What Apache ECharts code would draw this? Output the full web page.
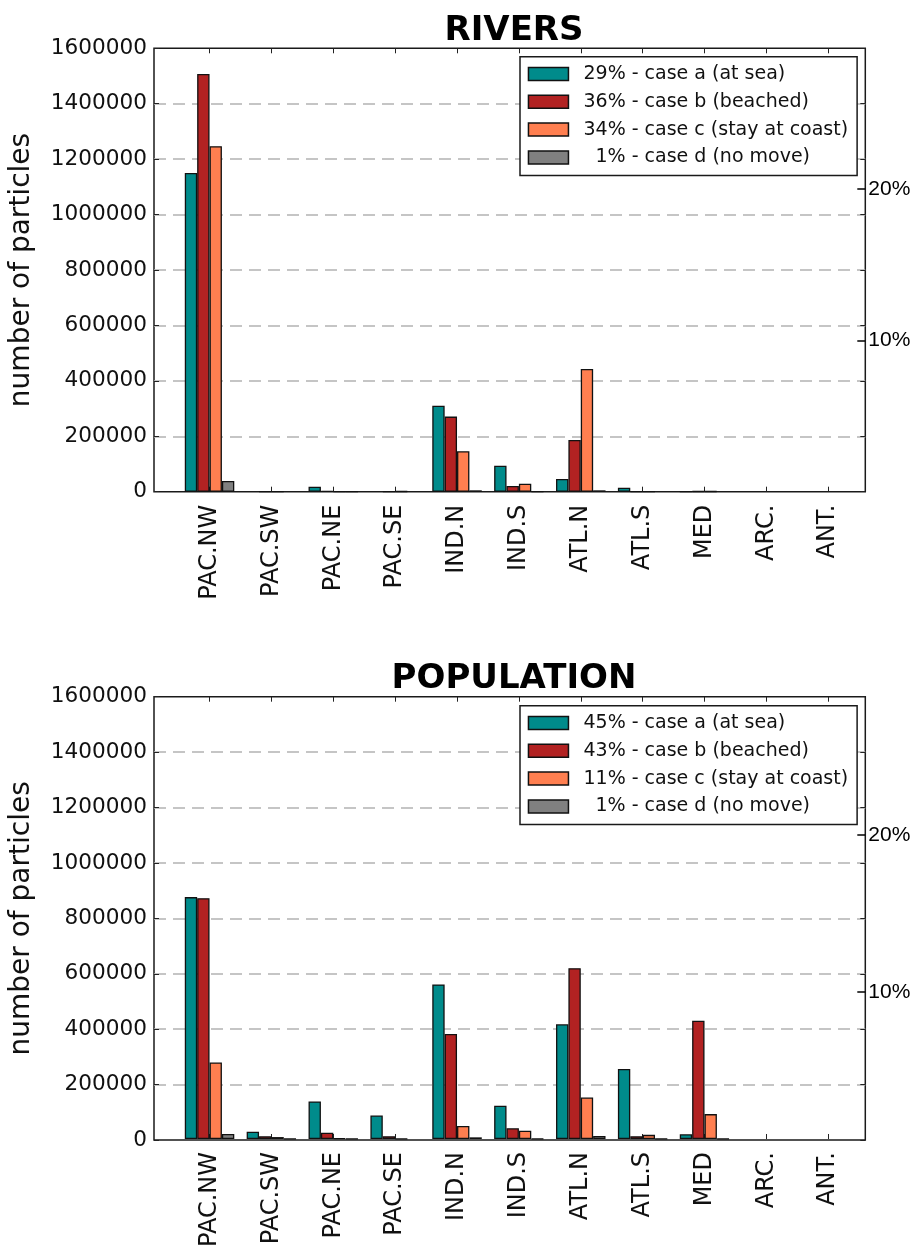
<!DOCTYPE html>
<html>
<head>
<meta charset="utf-8">
<script src="https://cdn.jsdelivr.net/npm/echarts@6/dist/echarts.min.js"></script>
<style>
  html, body { margin: 0; padding: 0; background: #fff; }
  #chart { width: 915px; height: 1250px; }
</style>
</head>
<body>
<div id="chart"></div>
<script>
// Ocean regions on the x axis
const categories = ['PAC.NW', 'PAC.SW', 'PAC.NE', 'PAC.SE', 'IND.N', 'IND.S', 'ATL.N', 'ATL.S', 'MED', 'ARC.', 'ANT.'];

// RIVERS source: number of particles per fate
const riversSea     = [1150000,   0, 18000,    0, 310000, 94000,  46000, 14000,  500, 0, 0];
const riversBeached = [1507000, 500,  3000,  500, 271000, 21000, 187000,  1000, 1500, 0, 0];
const riversCoast   = [1247000, 300,  1000, 1500, 146000, 29000, 443000,   500, 1500, 0, 0];
const riversNoMove  = [  39000,   0,   500,    0,   5000,  1000,   5000,     0,    0, 0, 0];

// POPULATION source: number of particles per fate
const popSea     = [875000, 26000, 136000, 85000, 559000, 120000, 415000, 253000,  17000, 0, 0];
const popBeached = [871000, 10000,  23000, 10000, 380000,  39000, 618000,  10000, 428000, 0, 0];
const popCoast   = [277000,  7000,   3000,  1000,  47000,  30000, 150000,  15000,  90000, 0, 0];
const popNoMove  = [ 18000,  1000,    500,     0,   6000,   1500,  11000,    500,   1500, 0, 0];

// Legend entries (share of all particles per fate)
const riversNames = ['29% - case a (at sea)', '36% - case b (beached)', '34% - case c (stay at coast)', '  1% - case d (no move)'];
const popNames    = ['45% - case a (at sea)', '43% - case b (beached)', '11% - case c (stay at coast)', '  1% - case d (no move)'];

// Axis ticks
const countMax = 1600000;
const countStep = 200000;
const percentTicks = [10, 20];

const fateColors = ['#008b8b', '#b22222', '#ff7f50', '#808080'];
const FONT = 'DejaVu Sans';
const INK = '#111';

const chart = echarts.init(document.getElementById('chart'), null, { renderer: 'canvas' });

const grid = [], xAxis = [], yAxis = [], series = [], legend = [], title = [];

function addPanel(cfg) {
  const frameGrid = grid.length;
  // outer frame with gridlines and y scales
  grid.push({ left: 153.3, top: cfg.top, width: 712, height: cfg.height,
              show: true, borderColor: '#1a1a1a', borderWidth: 1.5, backgroundColor: 'transparent' });
  // inner band for the grouped bars
  const barGrid = grid.length;
  grid.push({ left: 178.6, top: cfg.top, width: 680.6, height: cfg.height });

  xAxis.push({ gridIndex: frameGrid, type: 'value', show: false, min: 0, max: 1 });
  const catBottom = xAxis.length;
  xAxis.push({
    gridIndex: barGrid, type: 'category', data: categories, position: 'bottom',
    axisLine: { show: false },
    axisTick: { show: true, inside: true, alignWithLabel: true, interval: 0, length: 5, lineStyle: { color: '#222', width: 1 } },
    axisLabel: { interval: 0, rotate: 90, margin: 13, fontSize: 24, fontFamily: FONT, color: INK },
    splitLine: { show: false }
  });
  xAxis.push({
    gridIndex: barGrid, type: 'category', data: categories, position: 'top',
    axisLine: { show: false },
    axisTick: { show: true, inside: true, alignWithLabel: true, interval: 0, length: 5, lineStyle: { color: '#222', width: 1 } },
    axisLabel: { show: false },
    splitLine: { show: false }
  });

  yAxis.push({
    gridIndex: frameGrid, type: 'value', position: 'left', min: 0, max: countMax, interval: countStep,
    axisLine: { show: false },
    axisTick: { show: true, inside: true, length: 5, lineStyle: { color: '#222', width: 1 } },
    axisLabel: { margin: 7, fontSize: 21.6, fontFamily: FONT, color: INK, formatter: v => String(v) },
    splitLine: { show: true, showMinLine: false, showMaxLine: false,
                 lineStyle: { type: [12, 7], color: '#b3b3b3', width: 1.5 } },
    name: 'number of particles', nameLocation: 'middle', nameRotate: 90, nameGap: 118,
    nameTextStyle: { fontSize: 28, fontFamily: FONT, color: INK }
  });
  yAxis.push({
    gridIndex: frameGrid, type: 'value', position: 'right', min: 0, max: countMax, interval: countStep,
    axisLine: { show: false },
    axisTick: { show: true, inside: true, length: 5, lineStyle: { color: '#222', width: 1 } },
    axisLabel: { show: false }, splitLine: { show: false }
  });
  yAxis.push({
    gridIndex: frameGrid, type: 'value', position: 'right', min: cfg.pctMin, max: cfg.pctMax,
    axisLine: { show: false },
    axisTick: { show: true, inside: true, length: 8, customValues: percentTicks, lineStyle: { color: '#000', width: 1.5 } },
    axisLabel: { customValues: percentTicks, formatter: '{value}%', margin: 3, fontSize: 21,
                 fontFamily: 'Liberation Sans', color: '#000' },
    splitLine: { show: false }
  });
  const barY = yAxis.length;
  yAxis.push({ gridIndex: barGrid, type: 'value', min: 0, max: countMax, show: false });

  cfg.values.forEach((vals, i) => {
    series.push({
      type: 'bar', name: cfg.names[i],
      // empty slots for zero counts so no outline is drawn on the baseline
      data: vals.map(v => (v === 0 ? '-' : v)),
      xAxisIndex: catBottom, yAxisIndex: barY,
      barGap: '0%', barCategoryGap: '20%',
      itemStyle: { color: fateColors[i], borderColor: INK, borderWidth: 1.3 },
      silent: true
    });
  });

  legend.push({
    data: cfg.names, orient: 'vertical', left: 520, top: cfg.legendTop,
    padding: [7.8, 9, 8.5, 7.7], itemWidth: 40, itemHeight: 13, itemGap: 8.8,
    backgroundColor: '#fff', borderColor: '#1a1a1a', borderWidth: 1.5,
    icon: 'rect', selectedMode: false,
    itemStyle: { borderColor: INK, borderWidth: 1.5 },
    textStyle: { fontSize: 19, fontFamily: FONT, color: INK, padding: [0, 0, 0, 10] }
  });

  title.push({
    text: cfg.title, left: 509, top: cfg.titleTop, textAlign: 'center',
    textStyle: { fontSize: 34, fontWeight: 'bold', fontFamily: FONT, color: '#000' }
  });
}

addPanel({ title: 'RIVERS', titleTop: 9, top: 48.3, height: 443.4, legendTop: 56.7,
           pctMin: 0, pctMax: 29.3, names: riversNames,
           values: [riversSea, riversBeached, riversCoast, riversNoMove] });
addPanel({ title: 'POPULATION', titleTop: 657, top: 696.7, height: 443.3, legendTop: 705.7,
           pctMin: 0.54, pctMax: 28.83, names: popNames,
           values: [popSea, popBeached, popCoast, popNoMove] });

chart.setOption({
  animation: false,
  backgroundColor: '#fff',
  title, grid, xAxis, yAxis, series, legend
});
</script>
</body>
</html>
